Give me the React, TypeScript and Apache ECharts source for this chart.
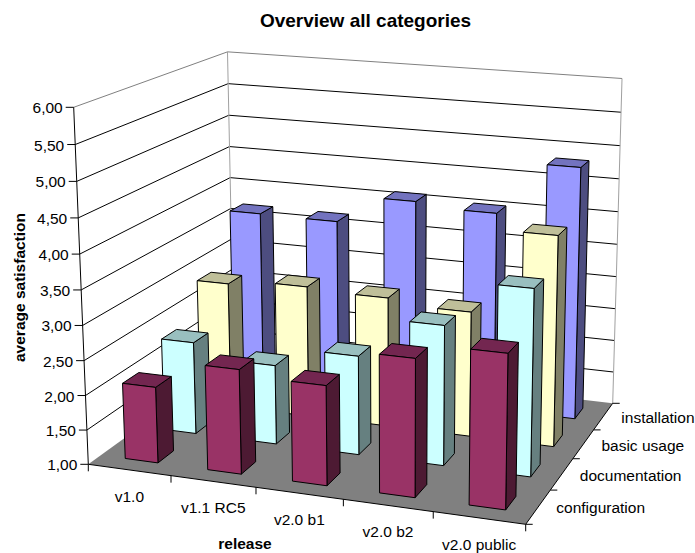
import React, { useEffect, useRef } from "react";
import * as echarts from "echarts";

// Releases run left to right, categories run front to back.
const releases = ["v1.0", "v1.1 RC5", "v2.0 b1", "v2.0 b2", "v2.0 public"];
const yTickLabels = ["1,00", "1,50", "2,00", "2,50", "3,00", "3,50", "4,00", "4,50", "5,00", "5,50", "6,00"];
const yTicks = [1, 1.5, 2, 2.5, 3, 3.5, 4, 4.5, 5, 5.5, 6];

const configuration = [2.1, 2.5, 2.42, 2.94, 3.15];
const documentation = [2.37, 2.17, 2.45, 3.03, 3.68];
const basicUsage = [2.91, 2.99, 2.95, 2.87, 4.11];
const installation = [3.69, 3.68, 4.1, 4.03, 4.82];

const rows = [
  { name: "configuration", values: configuration, front: "#993366", top: "#732650", side: "#4d1a33" },
  { name: "documentation", values: documentation, front: "#ccffff", top: "#99bfbf", side: "#668080" },
  { name: "basic usage", values: basicUsage, front: "#ffffcc", top: "#bfbf99", side: "#808066" },
  { name: "installation", values: installation, front: "#9999ff", top: "#7373bf", side: "#4d4d80" },
];

// Screen positions of the plot box corners, named by (release, depth, height).
const P000 = [88.3, 464.3];
const P100 = [525.7, 524.3];
const P010 = [234, 359];
const P110 = [612.7, 403.3];
const P001 = [73.7, 107.3];
const P011 = [228, 53.3];

const BAR_WIDTH = 0.4;
const BAR_DEPTH = 0.4;
const FONT = "'Liberation Sans', Arial, sans-serif";

// Solve the projective map of the unit box from its corners.
function buildProjection() {
  const a1 = P100[0] - P110[0];
  const b1 = P010[0] - P110[0];
  const c1 = P110[0] - P100[0] - P010[0] + P000[0];
  const a2 = P100[1] - P110[1];
  const b2 = P010[1] - P110[1];
  const c2 = P110[1] - P100[1] - P010[1] + P000[1];
  const det = a1 * b2 - a2 * b1;
  const g = (c1 * b2 - c2 * b1) / det;
  const h = (a1 * c2 - a2 * c1) / det;
  const dx = P001[0] - P011[0];
  const dy = P001[1] - P011[1];
  const rx = (P011[0] - P010[0]) * (1 + h) + P000[0] - P001[0];
  const ry = (P011[1] - P010[1]) * (1 + h) + P000[1] - P001[1];
  const k = (dx * rx + dy * ry) / (dx * dx + dy * dy);
  const vec = (p: number[], f: number) => [p[0] * f - P000[0], p[1] * f - P000[1]];
  const B = vec(P100, 1 + g);
  const C = vec(P010, 1 + h);
  const D = vec(P001, 1 + k);
  return (u: number, v: number, w: number) => {
    const q = 1 + g * u + h * v + k * w;
    return [
      (P000[0] + B[0] * u + C[0] * v + D[0] * w) / q,
      (P000[1] + B[1] * u + C[1] * v + D[1] * w) / q,
    ];
  };
}
const project = buildProjection();

// Turn a data pair into box coordinates through the grid's own scales.
function boxCoord(api: any, params: any, x: number, y: number) {
  const [px, py] = api.coord([x, y]);
  const c = params.coordSys;
  return [(px - c.x) / c.width, 1 - (py - c.y) / c.height];
}

function renderFrame(params: any, api: any) {
  const children: any[] = [];
  const line = (a: number[], b: number[], stroke: string, lineWidth = 1) =>
    children.push({
      type: "line",
      shape: { x1: a[0], y1: a[1], x2: b[0], y2: b[1] },
      style: { stroke, lineWidth },
    });
  const text = (t: string, x: number, y: number, align: string) =>
    children.push({
      type: "text",
      style: { text: t, x, y, textAlign: align, textVerticalAlign: "middle", fill: "#000", font: `15.5px ${FONT}` },
    });

  children.push({
    type: "polygon",
    shape: { points: [project(0, 0, 0), project(0, 1, 0), project(0, 1, 1), project(0, 0, 1)] },
    style: { fill: "#fff" },
  });
  children.push({
    type: "polygon",
    shape: { points: [project(0, 1, 0), project(1, 1, 0), project(1, 1, 1), project(0, 1, 1)] },
    style: { fill: "#fff" },
  });

  yTicks.forEach((t, i) => {
    const [, w] = boxCoord(api, params, 0, t);
    const a = project(0, 0, w);
    const b = project(0, 1, w);
    const c = project(1, 1, w);
    const edge = i === yTicks.length - 1 ? "#808080" : "#000";
    if (i > 0) {
      line(a, b, edge);
      line(b, c, edge);
    }
    line([a[0] - 8, a[1]], a, "#000");
    text(yTickLabels[i], a[0] - 11, a[1] + 0.5, "right");
  });
  line(project(0, 1, 0), project(0, 1, 1), "#a0a0a0");
  line(project(1, 1, 0), project(1, 1, 1), "#a0a0a0");

  children.push({
    type: "polygon",
    shape: { points: [project(0, 0, 0), project(1, 0, 0), project(1, 1, 0), project(0, 1, 0)] },
    style: { fill: "#808080" },
  });
  line(project(0, 0, 0), project(0, 0, 1), "#000");
  line(project(0, 0, 0), project(1, 0, 0), "#000");
  line(project(1, 0, 0), project(1, 1, 0), "#000");

  releases.forEach((name, i) => {
    const [u0] = boxCoord(api, params, i, 1);
    const [u1] = boxCoord(api, params, i + 1, 1);
    const tick = project(u0, 0, 0);
    line(tick, [tick[0], tick[1] + 7], "#000");
    const mid = project((u0 + u1) / 2, 0, 0);
    text(name, mid[0], mid[1] + 26.5, "center");
  });
  const end = project(1, 0, 0);
  line(end, [end[0], end[1] + 7], "#000");

  rows.forEach((row, s) => {
    const tick = project(1, s / rows.length, 0);
    line(tick, [tick[0] + 7, tick[1]], "#000");
    const mid = project(1, (s + 0.5) / rows.length, 0);
    text(row.name, mid[0] + 18, mid[1] + 1, "left");
  });
  const back = project(1, 1, 0);
  line(back, [back[0] + 7, back[1]], "#000");

  return { type: "group", children };
}

function renderBar(s: number) {
  const row = rows[s];
  return (params: any, api: any) => {
    const i = api.value(0);
    const [u0, w0] = boxCoord(api, params, i + (1 - BAR_WIDTH) / 2, 1);
    const [u1, w1] = boxCoord(api, params, i + (1 + BAR_WIDTH) / 2, api.value(1));
    const v0 = (s + (1 - BAR_DEPTH) / 2) / rows.length;
    const v1 = (s + (1 + BAR_DEPTH) / 2) / rows.length;
    const face = (points: number[][], fill: string) => ({
      type: "polygon",
      shape: { points },
      style: { fill, stroke: "#000", lineWidth: 1 },
    });
    return {
      type: "group",
      children: [
        face([project(u1, v0, w0), project(u1, v1, w0), project(u1, v1, w1), project(u1, v0, w1)], row.side),
        face([project(u0, v0, w1), project(u1, v0, w1), project(u1, v1, w1), project(u0, v1, w1)], row.top),
        face([project(u0, v0, w0), project(u1, v0, w0), project(u1, v0, w1), project(u0, v0, w1)], row.front),
      ],
    };
  };
}

export default function App() {
  const ref = useRef<HTMLDivElement>(null);
  useEffect(() => {
    const chart = echarts.init(ref.current!, undefined, { renderer: "svg" });
    const barSeries = rows
      .map((row, s) => ({
        type: "custom" as const,
        name: row.name,
        coordinateSystem: "cartesian2d",
        clip: false,
        silent: true,
        renderItem: renderBar(s),
        encode: { x: 0, y: 1 },
        data: row.values.map((v, i) => [i, v]),
      }))
      .reverse();
    chart.setOption({
      animation: false,
      backgroundColor: "#fff",
      title: {
        text: "Overview all categories",
        left: 360.5,
        top: 6,
        textAlign: "center",
        textStyle: { fontFamily: FONT, fontSize: 19, fontWeight: "bold", color: "#000" },
      },
      grid: { left: 0, right: 0, top: 0, bottom: 0 },
      xAxis: { type: "value", min: 0, max: 5, show: false },
      yAxis: { type: "value", min: 1, max: 6, interval: 0.5, show: false },
      graphic: [
        {
          type: "text",
          x: 19,
          y: 287.5,
          rotation: Math.PI / 2,
          style: {
            text: "average satisfaction",
            textAlign: "center",
            textVerticalAlign: "middle",
            font: `bold 15.5px ${FONT}`,
            fill: "#000",
          },
        },
        {
          type: "text",
          x: 245,
          y: 543,
          style: {
            text: "release",
            textAlign: "center",
            textVerticalAlign: "middle",
            font: `bold 15.5px ${FONT}`,
            fill: "#000",
          },
        },
      ],
      series: [
        {
          type: "custom",
          name: "frame",
          coordinateSystem: "cartesian2d",
          clip: false,
          silent: true,
          renderItem: renderFrame,
          encode: { x: 0, y: 1 },
          data: [[0, 1]],
        },
        ...barSeries,
      ],
    });
    return () => chart.dispose();
  }, []);
  return <div ref={ref} style={{ position: "fixed", left: 0, top: 0, width: 695, height: 553 }} />;
}
